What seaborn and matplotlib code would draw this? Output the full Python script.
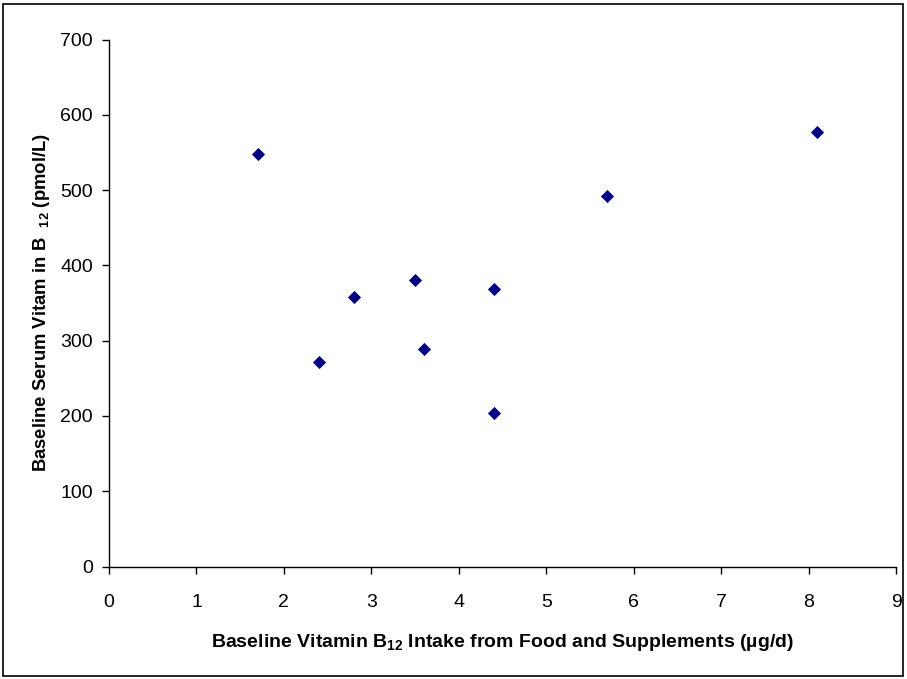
import matplotlib
matplotlib.use("Agg")
import matplotlib.pyplot as plt
import seaborn as sns
import pandas as pd
from matplotlib.patches import Rectangle

# Data
intake = [1.7, 2.4, 2.8, 3.5, 3.6, 4.4, 4.4, 5.7, 8.1]
serum = [548, 272, 358, 380, 289, 204, 369, 492, 577]
x_ticks = [0, 1, 2, 3, 4, 5, 6, 7, 8, 9]
y_ticks = [0, 100, 200, 300, 400, 500, 600, 700]

df = pd.DataFrame({"intake": intake, "serum": serum})

sns.set_style("white")
plt.rcParams["font.family"] = ["Liberation Sans", "DejaVu Sans"]
plt.rcParams["text.color"] = "black"
plt.rcParams["axes.labelcolor"] = "black"
plt.rcParams["xtick.color"] = "black"
plt.rcParams["ytick.color"] = "black"
plt.rcParams["mathtext.default"] = "regular"

fig = plt.figure(figsize=(9.07, 6.79), dpi=100)
ax = fig.add_axes([109 / 907, 1 - 566.5 / 679, (896 - 109) / 907, (566.5 - 39.5) / 679])

sns.scatterplot(data=df, x="intake", y="serum", marker="D", color="#000080",
                s=45, edgecolor="#000080", linewidth=0, ax=ax, zorder=3)

ax.set_xlim(0, 9)
ax.set_ylim(0, 700)
ax.set_xticks(x_ticks)
ax.set_yticks(y_ticks)
ax.set_xticklabels([str(v) for v in x_ticks], fontsize=14)
ax.set_yticklabels([str(v) for v in y_ticks], fontsize=14)
ax.tick_params(axis="both", direction="out", length=5, width=1, color="black",
               labelcolor="black", bottom=True, left=True)
ax.tick_params(axis="x", pad=15)
ax.tick_params(axis="y", pad=6.5)

for s in ["top", "right"]:
    ax.spines[s].set_visible(False)
for s in ["left", "bottom"]:
    ax.spines[s].set_color("black")
    ax.spines[s].set_linewidth(1)

ax.set_xlabel(r"Baseline Vitamin B$_{12}$ Intake from Food and Supplements (µg/d)",
              fontsize=14, fontweight="bold", color="black", labelpad=15)
ax.set_ylabel(r"Baseline Serum Vitam in B  $_{12}$ (pmol/L)",
              fontsize=13.3, fontweight="bold", color="black", labelpad=6)

fig.patches.append(Rectangle((3 / 907, 3 / 679), 900 / 907, 672 / 679, transform=fig.transFigure,
                             fill=False, edgecolor="black", linewidth=1.2))

fig.savefig("out.png", dpi=100)
